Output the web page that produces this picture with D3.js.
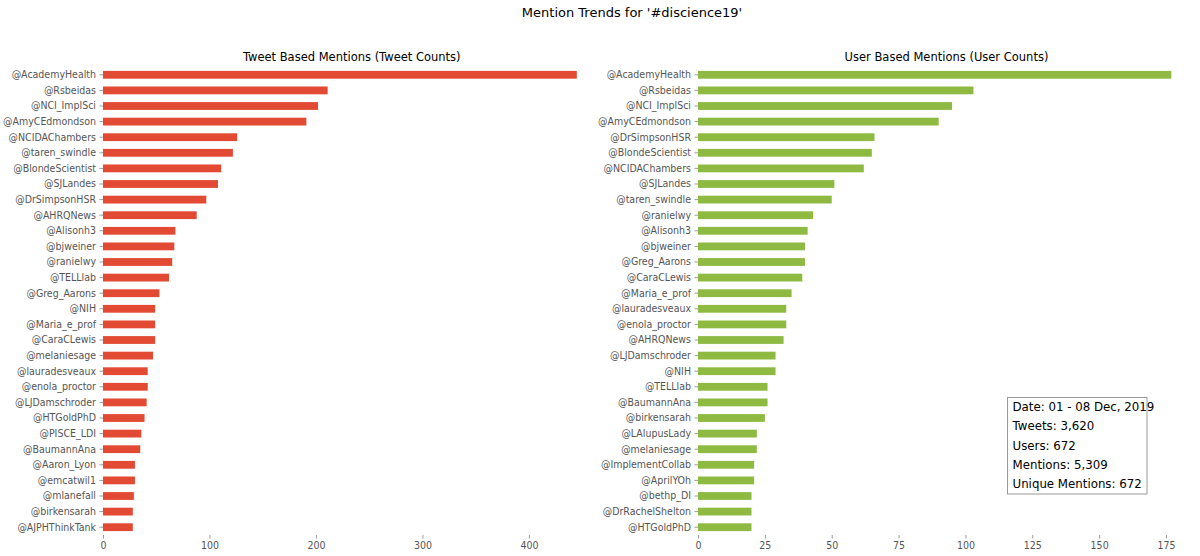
<!DOCTYPE html>
<html>
<head>
<meta charset="utf-8">
<script src="https://cdn.jsdelivr.net/npm/d3@7"></script>
<style>
  body { margin: 0; background: #fff; }
  svg { display: block; }
</style>
</head>
<body>
<script>
// Données : comptes par tweet (gauche) et par utilisateur (droite)
const tweetNames = ["@AcademyHealth", "@Rsbeidas", "@NCI_ImplSci", "@AmyCEdmondson", "@NCIDAChambers",
  "@taren_swindle", "@BlondeScientist", "@SJLandes", "@DrSimpsonHSR", "@AHRQNews",
  "@Alisonh3", "@bjweiner", "@ranielwy", "@TELLlab", "@Greg_Aarons",
  "@NIH", "@Maria_e_prof", "@CaraCLewis", "@melaniesage", "@lauradesveaux",
  "@enola_proctor", "@LJDamschroder", "@HTGoldPhD", "@PISCE_LDI", "@BaumannAna",
  "@Aaron_Lyon", "@emcatwil1", "@mlanefall", "@birkensarah", "@AJPHThinkTank"];
const tweetCounts = [445, 211, 202, 191, 126, 122, 111, 108, 97, 88,
  68, 67, 65, 62, 53, 49, 49, 49, 47, 42,
  42, 41, 39, 36, 35, 30, 30, 29, 28, 28];

const userNames = ["@AcademyHealth", "@Rsbeidas", "@NCI_ImplSci", "@AmyCEdmondson", "@DrSimpsonHSR",
  "@BlondeScientist", "@NCIDAChambers", "@SJLandes", "@taren_swindle", "@ranielwy",
  "@Alisonh3", "@bjweiner", "@Greg_Aarons", "@CaraCLewis", "@Maria_e_prof",
  "@lauradesveaux", "@enola_proctor", "@AHRQNews", "@LJDamschroder", "@NIH",
  "@TELLlab", "@BaumannAna", "@birkensarah", "@LAlupusLady", "@melaniesage",
  "@ImplementCollab", "@AprilYOh", "@bethp_DI", "@DrRachelShelton", "@HTGoldPhD"];
const userCounts = [177, 103, 95, 90, 66, 65, 62, 51, 50, 43,
  41, 40, 40, 39, 35, 33, 33, 32, 29, 29,
  26, 26, 25, 22, 22, 21, 21, 20, 20, 20];

const tweetTicks = [0, 100, 200, 300, 400];
const userTicks = [0, 25, 50, 75, 100, 125, 150, 175];

const infoLines = ["Date: 01 - 08 Dec, 2019", "Tweets: 3,620", "Users: 672",
  "Mentions: 5,309", "Unique Mentions: 672"];

const W = 1200, H = 556;
const plotTop = 67, plotBottom = 535;

const svg = d3.select("body").append("svg")
    .attr("width", W)
    .attr("height", H)
    .style("font-family", "'DejaVu Sans', sans-serif");

// Titre général
svg.append("text")
    .attr("x", 632)
    .attr("y", 17)
    .attr("text-anchor", "middle")
    .attr("font-size", "13px")
    .attr("fill", "#000")
    .text("Mention Trends for '#discience19'");

function drawPanel(left, width, names, values, ticks, color, title) {
    const x = d3.scaleLinear()
        .domain([0, d3.max(values) * 1.05])
        .range([left, left + width]);

    const y = d3.scaleBand()
        .domain(names)
        .range([plotTop, plotBottom])
        .paddingInner(0.5)
        .paddingOuter(0.25);

    const g = svg.append("g");

    g.append("text")
        .attr("x", left + width / 2)
        .attr("y", plotTop - 6)
        .attr("text-anchor", "middle")
        .attr("font-size", "11.5px")
        .attr("fill", "#000")
        .text(title);

    g.selectAll("rect")
        .data(names)
        .enter().append("rect")
        .attr("x", x(0))
        .attr("y", d => y(d))
        .attr("width", (d, i) => x(values[i]) - x(0))
        .attr("height", y.bandwidth())
        .attr("fill", color);

    const ya = g.append("g")
        .attr("transform", `translate(${left},0)`)
        .call(d3.axisLeft(y).tickSize(3.5).tickPadding(3.5));
    ya.select(".domain").remove();
    ya.selectAll("line").attr("stroke", "#999");
    ya.selectAll("text")
        .attr("fill", "#555")
        .attr("font-size", "10.5px")
        .style("font-family", "'DejaVu Sans Condensed', 'DejaVu Sans', sans-serif");

    const xa = g.append("g")
        .attr("transform", `translate(0,${plotBottom})`)
        .call(d3.axisBottom(x).tickValues(ticks).tickSize(3.5).tickPadding(3.5));
    xa.select(".domain").remove();
    xa.selectAll("line").attr("stroke", "#999");
    xa.selectAll("text")
        .attr("fill", "#555")
        .attr("font-size", "10.5px")
        .style("font-family", "'DejaVu Sans Condensed', 'DejaVu Sans', sans-serif");
}

drawPanel(103, 497.5, tweetNames, tweetCounts, tweetTicks, "#e24a33",
    "Tweet Based Mentions (Tweet Counts)");
drawPanel(698, 497, userNames, userCounts, userTicks, "#8eba42",
    "User Based Mentions (User Counts)");

// Encadré d'informations
const box = svg.append("g").attr("transform", "translate(1007.5,397.5)");
box.append("rect")
    .attr("width", 139.5)
    .attr("height", 96.5)
    .attr("fill", "#fff")
    .attr("stroke", "#999")
    .attr("stroke-width", 1);
box.selectAll("text")
    .data(infoLines)
    .enter().append("text")
    .attr("x", 5)
    .attr("y", (d, i) => 13.5 + i * 19.3)
    .attr("font-size", "11.8px")
    .attr("fill", "#000")
    .text(d => d);
</script>
</body>
</html>
